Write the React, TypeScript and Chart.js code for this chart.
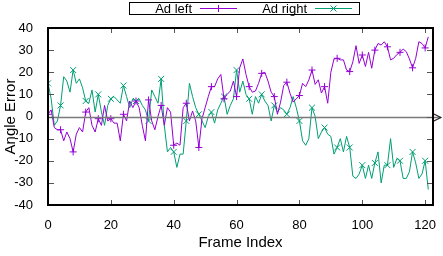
import React, { useEffect, useRef } from 'react';
import { Chart, registerables } from 'chart.js';

Chart.register(...registerables);

const seriesNames = ['Ad left', 'Ad right'];
const seriesColors = ['#9400D3', '#009E73'];
const xTickValues = [0, 20, 40, 60, 80, 100, 120];
const yTickValues = [-40, -30, -20, -10, 0, 10, 20, 30, 40];

const adLeft = [
  1, 3, -5, -6, -6, -11, -7, -10, -16, -8,
  -5, -7, 2, 4, -4, -7, -1, -4, 5, -2,
  -1, -3, -3, -11, 1, -2, 7, 4, 7, 4,
  -4, -11, 7.5, -2, -6, 0, 5, -4, 4, 2,
  -13, -12, -13, 4, 6, -2, 2.5, -2, -14, -1,
  4, 9, 13.5, 13.5, 17, 19, 8, 10, 11.5, 16,
  9, 22, 26, 19, 13.5, 11, 11.5, 15, 19.5, 20,
  16, 11, 9, 1, 6.5, 14, 15.5, 10.5, 6.5, 8,
  9.5, 15, 13.5, 16.5, 21, 14.5, 16.6, 10.6, 13.5, 6,
  20, 26, 26.3, 25.6, 25.6, 21, 20.3, 24.7, 32, 24,
  27.8, 22.6, 29, 21.8, 30, 33, 32.3, 33.8, 31.5, 25.6,
  26.3, 28, 29, 30.5, 29.3, 26, 22, 26.3, 33.8, 33,
  31, 36,
];

const adRight = [
  15, 8, -4, -2, 5, 18, 16, 11, 21, 15,
  17, 13, 7, 6, 12, 2, 10, 2, -4, 5,
  8, 9, 7.5, 6, 14, 9, 4, 8, 7, 8,
  5, 3, -2, 12, 9, 6, 17, -4, -16, -14,
  -16, -23, -17, -17, -2, 15, 9, 4, 1, -2,
  -5, 0, 2, -3, 3, 6, 9, 1, 5, 8,
  21, 11, 16, 10, 8, 1, 9, 6, 10, 7,
  5, -2, 5, 2, 4, 3, 1, 4, 9, 4,
  -2, -11, -13, -10, 4, 0, -10, -7, -5, -8,
  -9, -17, -14, -10, -16, -9, -14, -27, -28, -26,
  -22, -28, -22, -28, -21, -16, -30, -22, -22, -10,
  -23, -19, -20, -28, -28, -25, -16, -21, -28, -26,
  -20, -33,
];

const frameIndex = adLeft.map((_, i) => i);

const FONT = '"Liberation Sans", Arial, sans-serif';

function drawMarker(ctx: CanvasRenderingContext2D, kind: number, x: number, y: number) {
  ctx.beginPath();
  if (kind === 0) {
    ctx.moveTo(x - 3.5, y); ctx.lineTo(x + 3.5, y);
    ctx.moveTo(x, y - 3.5); ctx.lineTo(x, y + 3.5);
  } else {
    ctx.moveTo(x - 3, y - 3); ctx.lineTo(x + 3, y + 3);
    ctx.moveTo(x - 3, y + 3); ctx.lineTo(x + 3, y - 3);
  }
  ctx.stroke();
}

const framePlugin = {
  id: 'gnuplotFrame',
  afterDatasetsDraw(chart: any) {
    const { ctx, chartArea: a, scales } = chart;
    const xs = scales.x;
    const ys = scales.y;
    ctx.save();
    // zero arrow
    const y0 = Math.round(ys.getPixelForValue(0)) + 0.5;
    const xStart = xs.getPixelForValue(0);
    const xEnd = xs.getPixelForValue(125);
    ctx.strokeStyle = '#7a7a7a';
    ctx.lineWidth = 1.5;
    ctx.beginPath();
    ctx.moveTo(xStart, y0);
    ctx.lineTo(xEnd, y0);
    ctx.stroke();
    ctx.strokeStyle = '#222';
    ctx.lineWidth = 1.2;
    ctx.beginPath();
    ctx.moveTo(xEnd - 7, y0 - 3.5);
    ctx.lineTo(xEnd, y0);
    ctx.lineTo(xEnd - 7, y0 + 3.5);
    ctx.stroke();

    // inward ticks
    ctx.strokeStyle = '#555';
    ctx.lineWidth = 1;
    ctx.beginPath();
    for (const v of xTickValues) {
      const px = Math.round(xs.getPixelForValue(v)) + 0.5;
      ctx.moveTo(px, a.bottom); ctx.lineTo(px, a.bottom - 5);
      ctx.moveTo(px, a.top); ctx.lineTo(px, a.top + 5);
    }
    for (const v of yTickValues) {
      const py = Math.round(ys.getPixelForValue(v)) + 0.5;
      ctx.moveTo(a.left, py); ctx.lineTo(a.left + 6, py);
      ctx.moveTo(a.right, py); ctx.lineTo(a.right - 6, py);
    }
    ctx.stroke();

    // border
    ctx.strokeStyle = '#000';
    ctx.lineWidth = 2;
    ctx.strokeRect(a.left, a.top, a.right - a.left, a.bottom - a.top);

    // legend
    ctx.lineWidth = 1;
    ctx.strokeRect(129.5, 2.5, 230, 12);
    ctx.font = `13px ${FONT}`;
    ctx.fillStyle = '#000';
    ctx.textAlign = 'right';
    ctx.textBaseline = 'middle';
    const textEnds = [192, 307];
    const lineStarts = [200, 315];
    seriesNames.forEach((name, i) => {
      ctx.fillStyle = '#000';
      ctx.fillText(name, textEnds[i], 9);
      ctx.strokeStyle = seriesColors[i];
      ctx.lineWidth = 1;
      ctx.beginPath();
      ctx.moveTo(lineStarts[i], 8.5);
      ctx.lineTo(lineStarts[i] + 37, 8.5);
      ctx.stroke();
      drawMarker(ctx, i, lineStarts[i] + 18.5, 8.5);
    });
    ctx.restore();
  },
};

export default function App() {
  const ref = useRef<HTMLCanvasElement>(null);
  useEffect(() => {
    if (!ref.current) return;
    const markerRadius = (c: any) => (c.dataIndex % 4 === 0 ? 3.5 : 0);
    const chart = new Chart(ref.current, {
      type: 'line',
      data: {
        datasets: [
          {
            label: seriesNames[0],
            data: frameIndex.map((x, i) => ({ x, y: adLeft[i] })),
            borderColor: seriesColors[0],
            backgroundColor: seriesColors[0],
            borderWidth: 1,
            pointStyle: 'cross',
            pointRadius: markerRadius,
            pointBorderWidth: 1,
            pointBorderColor: seriesColors[0],
            tension: 0,
            fill: false,
          },
          {
            label: seriesNames[1],
            data: frameIndex.map((x, i) => ({ x, y: adRight[i] })),
            borderColor: seriesColors[1],
            backgroundColor: seriesColors[1],
            borderWidth: 1,
            pointStyle: 'crossRot',
            pointRadius: (c: any) => (c.dataIndex % 4 === 0 ? 4.2 : 0),
            pointBorderWidth: 1,
            pointBorderColor: seriesColors[1],
            tension: 0,
            fill: false,
          },
        ],
      },
      options: {
        animation: false,
        responsive: false,
        devicePixelRatio: 1,
        layout: { padding: { top: 28, right: 10, left: 0, bottom: 0 } },
        plugins: {
          legend: { display: false },
          tooltip: { enabled: false },
        },
        scales: {
          x: {
            type: 'linear',
            min: 0,
            max: 122.5,
            grid: { display: false },
            border: { display: false },
            ticks: {
              stepSize: 20,
              includeBounds: false,
              maxRotation: 0,
              padding: 5,
              color: '#000',
              font: { family: FONT, size: 13 },
            },
            title: {
              display: true,
              text: 'Frame Index',
              color: '#000',
              font: { family: FONT, size: 15 },
              padding: { top: 0, bottom: 4 },
            },
            afterFit: (s: any) => { s.height = 51; },
          },
          y: {
            type: 'linear',
            min: -40,
            max: 40,
            grid: { display: false },
            border: { display: false },
            ticks: {
              stepSize: 10,
              padding: 7,
              color: '#000',
              font: { family: FONT, size: 13 },
            },
            title: {
              display: true,
              text: 'Angle Error',
              color: '#000',
              font: { family: FONT, size: 15 },
              padding: { top: 2, bottom: 0 },
            },
            afterFit: (s: any) => { s.width = 48; },
          },
        },
      },
      plugins: [framePlugin],
    });
    return () => chart.destroy();
  }, []);
  return (
    <div style={{ position: 'absolute', left: 0, top: 0, width: 443, height: 256, background: '#fff' }}>
      <canvas ref={ref} width={443} height={256} />
    </div>
  );
}
